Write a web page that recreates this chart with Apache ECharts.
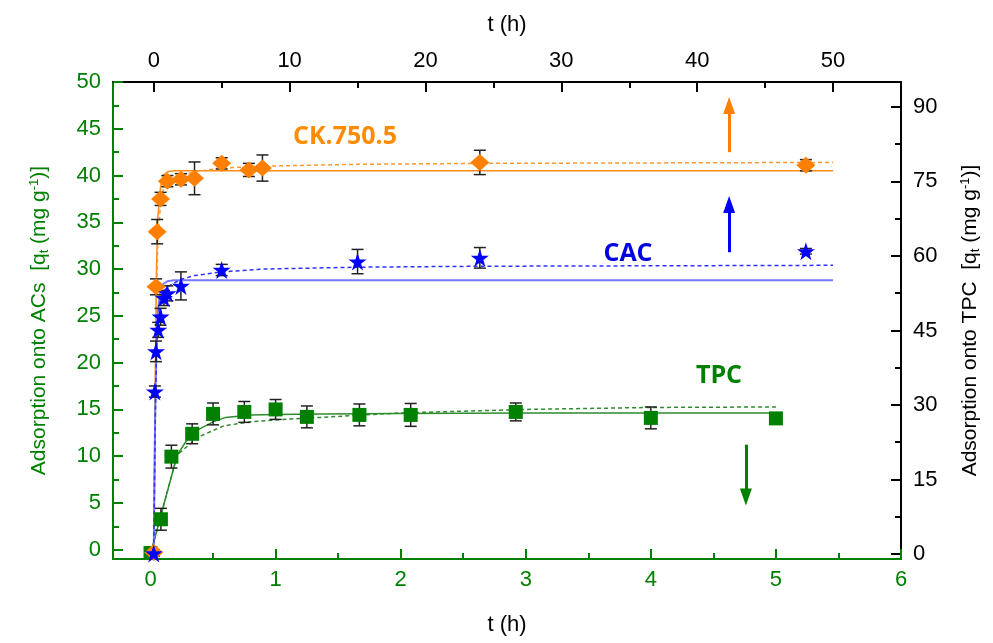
<!DOCTYPE html>
<html>
<head>
<meta charset="utf-8">
<script src="https://cdn.jsdelivr.net/npm/echarts@6/dist/echarts.min.js"></script>
<style>html,body{margin:0;padding:0;background:#fff}#c{width:993px;height:643px}</style>
</head>
<body>
<div id="c"></div>
<script>
// ---------- tick labels ----------
const bottomMajor = [0, 1, 2, 3, 4, 5, 6];
const bottomMinor = [0.5, 1.5, 2.5, 3.5, 4.5, 5.5];
const topMajor = [0, 10, 20, 30, 40, 50];
const topMinor = [5, 15, 25, 35, 45];
const leftMajor = [0, 5, 10, 15, 20, 25, 30, 35, 40, 45, 50];
const leftMinor = [2.5, 7.5, 12.5, 17.5, 22.5, 27.5, 32.5, 37.5, 42.5, 47.5];
const rightMajor = [0, 15, 30, 45, 60, 75, 90];
const rightMinor = [7.5, 22.5, 37.5, 52.5, 67.5, 82.5];

// ---------- TPC (bottom t axis, right q axis) ----------
const tpcT   = [0, 0.083, 0.167, 0.333, 0.5, 0.75, 1, 1.25, 1.67, 2.08, 2.92, 4, 5];
const tpcQ   = [0.2, 7.0, 19.6, 24.2, 28.2, 28.6, 29.1, 27.6, 28.0, 28.0, 28.6, 27.4, 27.3];
const tpcErr = [0, 2.2, 2.3, 2.0, 2.2, 2.1, 2.0, 2.2, 2.2, 2.3, 1.8, 2.2, 0.3];
const tpcFitST = [0, 0.213, 0.3, 0.386, 0.5, 0.6, 0.8, 1.0, 1.36, 2, 3, 4, 5];
const tpcFitSQ = [0, 19.9, 23.3, 25.1, 26.6, 27.5, 28.0, 28.1, 28.2, 28.3, 28.4, 28.4, 28.4];
const tpcFitDT = [0, 0.213, 0.266, 0.386, 0.585, 0.8, 1.065, 1.36, 2, 3, 4, 5];
const tpcFitDQ = [0, 19.9, 21.1, 23.6, 25.8, 26.6, 27.1, 27.5, 28.4, 29.1, 29.5, 29.6];

// ---------- CK.750.5 (top t axis, left q axis) ----------
const ckT   = [0, 0.17, 0.25, 0.5, 1, 2, 3, 5, 7, 8, 24, 48];
const ckQ   = [-0.3, 28.1, 34.0, 37.5, 39.4, 39.6, 39.7, 41.3, 40.6, 40.8, 41.4, 41.1];
const ckErr = [0.3, 0.85, 1.3, 0.7, 0.6, 0.6, 1.75, 0.6, 0.7, 1.4, 1.3, 0.6];
const ckFitST = [0, 0.1, 0.2, 0.3, 0.5, 0.7, 1, 1.5, 50];
const ckFitSQ = [0, 17, 30, 35.5, 38.8, 40.0, 40.4, 40.5, 40.5];
const ckFitDT = [0, 0.1, 0.2, 0.3, 0.5, 0.7, 1, 2, 3, 5, 8, 15, 24, 50];
const ckFitDQ = [0, 15, 27, 33, 37, 38.5, 39.3, 40.0, 40.4, 40.8, 41.0, 41.2, 41.3, 41.4];

// ---------- CAC (top t axis, left q axis) ----------
const cacT   = [0, 0.083, 0.167, 0.33, 0.5, 0.75, 1, 2, 5, 15, 24, 48];
const cacQ   = [-0.4, 16.9, 21.2, 23.5, 24.9, 26.9, 27.4, 28.2, 29.9, 30.8, 31.2, 31.9];
const cacErr = [0.3, 0.6, 1.1, 0.8, 0.9, 0.8, 0.8, 1.5, 0.6, 1.3, 1.1, 0.3];
const cacFitST = [0, 0.1, 0.2, 0.3, 0.5, 0.7, 1, 1.5, 50];
const cacFitSQ = [0, 14, 22, 25.5, 27.8, 28.4, 28.7, 28.8, 28.8];
const cacFitDT = [0, 0.1, 0.2, 0.3, 0.5, 0.7, 1, 2, 3, 5, 8, 15, 24, 50];
const cacFitDQ = [0, 13, 21, 24.5, 26.8, 27.6, 28.1, 28.9, 29.3, 29.7, 30.0, 30.2, 30.3, 30.4];

// ---------- arrows (axis coordinates: tail, head centre) ----------
const ckArrow  = [[42.35, 42.5], [42.35, 47.5]];
const cacArrow = [[42.35, 31.8], [42.35, 36.9]];
const tpcArrow = [[4.76, 22.0], [4.76, 11.5]];

const GREEN = '#008000', ORANGE = '#ff8000', BLUE = '#0000ff', BLACK = '#000';
const FONT = '"Liberation Sans", Arial, sans-serif';
const STAR = 'path://M50,0 L61.8,35.1 L98.9,35.1 L68.9,57 L80.3,92.2 L50,70.4 L19.7,92.2 L31.1,57 L1.1,35.1 L38.2,35.1 Z';

const zip = (a, b) => a.map((v, i) => [v, b[i]]);

function mainAxis(dir, pos, min, max, major, color, name, nameGap, nameRich) {
  const ax = {
    type: 'value', position: pos, min: min, max: max,
    axisLine: { show: true, onZero: false, lineStyle: { color: color, width: 2 } },
    axisTick: { show: true, inside: true, length: 10, customValues: major, lineStyle: { color: color, width: 2 } },
    axisLabel: { show: true, customValues: major, color: color, fontSize: 22, fontFamily: FONT, margin: dir === 'x' ? 10 : 12 },
    splitLine: { show: false },
    name: name, nameLocation: 'middle', nameGap: nameGap,
    nameTextStyle: { color: BLACK, fontSize: 22, fontFamily: FONT }
  };
  if (nameRich) {
    ax.nameRotate = 90;
    ax.nameTextStyle = {
      color: color, fontSize: 21, fontFamily: FONT,
      rich: {
        a: { color: color, fontSize: 21, fontFamily: FONT },
        sub: { color: color, fontSize: 13, fontFamily: FONT, verticalAlign: 'bottom', padding: [10, 0, 0, 0] },
        sup: { color: color, fontSize: 13, fontFamily: FONT, verticalAlign: 'top', padding: [0, 0, 8, 0] }
      }
    };
  }
  return ax;
}
function minorAxis(pos, min, max, vals, color) {
  return {
    type: 'value', position: pos, min: min, max: max,
    axisLine: { show: false, onZero: false },
    axisTick: { show: true, inside: true, length: 6, customValues: vals, lineStyle: { color: color, width: 2 } },
    axisLabel: { show: false },
    splitLine: { show: false }
  };
}

function errSeries(ts, qs, es, xi, yi) {
  return {
    type: 'custom', xAxisIndex: xi, yAxisIndex: yi, silent: true, z: 2,
    data: ts.map((t, i) => [t, qs[i] - es[i], qs[i] + es[i]]),
    encode: { x: 0, y: [1, 2] },
    renderItem: function (params, api) {
      if (api.value(2) - api.value(1) < 0.05) return null;
      const lo = api.coord([api.value(0), api.value(1)]);
      const hi = api.coord([api.value(0), api.value(2)]);
      const w = 6;
      const st = { stroke: '#222', lineWidth: 1.5 };
      return {
        type: 'group', children: [
          { type: 'line', shape: { x1: lo[0], y1: lo[1], x2: hi[0], y2: hi[1] }, style: st },
          { type: 'line', shape: { x1: lo[0] - w, y1: lo[1], x2: lo[0] + w, y2: lo[1] }, style: st },
          { type: 'line', shape: { x1: hi[0] - w, y1: hi[1], x2: hi[0] + w, y2: hi[1] }, style: st }
        ]
      };
    }
  };
}
function fitSeries(ts, qs, xi, yi, color, dashed, width) {
  return {
    type: 'line', xAxisIndex: xi, yAxisIndex: yi, data: zip(ts, qs),
    showSymbol: false, symbol: 'none', smooth: false, silent: true, z: 1,
    lineStyle: { color: color, width: width || 1.5, type: dashed ? [4, 3] : 'solid' }
  };
}
function arrowLine(pts, color) {
  return {
    silent: true, symbol: ['none', 'triangle'], symbolSize: [12, 17],
    label: { show: false },
    lineStyle: { color: color, width: 3, type: 'solid' },
    itemStyle: { color: color },
    data: [[{ coord: pts[0] }, { coord: pts[1] }]]
  };
}

const chart = echarts.init(document.getElementById('c'), null, { renderer: 'canvas' });
chart.setOption({
  animation: false,
  grid: { left: 113, right: 92, top: 82, bottom: 84, containLabel: false },
  xAxis: [
    mainAxis('x', 'bottom', -0.3, 6, bottomMajor, GREEN, 't (h)', 55),
    minorAxis('bottom', -0.3, 6, bottomMinor, GREEN),
    mainAxis('x', 'top', -3, 55, topMajor, BLACK, 't (h)', 46),
    minorAxis('top', -3, 55, topMinor, BLACK)
  ],
  yAxis: [
    mainAxis('y', 'left', -1, 50, leftMajor, GREEN, '{a|Adsorption onto ACs  [q}{sub|t}{a| (mg g}{sup|-1}{a|)]}', 62, true),
    minorAxis('left', -1, 50, leftMinor, GREEN),
    mainAxis('y', 'right', -1, 95, rightMajor, BLACK, '{a|Adsorption onto TPC  [q}{sub|t}{a| (mg g}{sup|-1}{a|)]}', 58, true),
    minorAxis('right', -1, 95, rightMinor, BLACK)
  ],
  series: [
    // fits
    fitSeries(tpcFitST, tpcFitSQ, 0, 2, '#2e8b2e', false),
    fitSeries(tpcFitDT, tpcFitDQ, 0, 2, '#2e8b2e', true),
    fitSeries(ckFitST, ckFitSQ, 2, 0, '#ff8a1a', false),
    Object.assign(fitSeries(ckFitDT, ckFitDQ, 2, 0, '#ff9a33', true), { markLine: arrowLine(ckArrow, ORANGE) }),
    fitSeries(cacFitST, cacFitSQ, 2, 0, '#7878ff', false, 2),
    Object.assign(fitSeries(cacFitDT, cacFitDQ, 2, 0, '#3030ff', true), { markLine: arrowLine(cacArrow, BLUE) }),
    Object.assign(fitSeries([tpcArrow[0][0]], [tpcArrow[0][1]], 0, 2, 'rgba(0,0,0,0)', false), { markLine: arrowLine(tpcArrow, GREEN) }),
    // error bars
    errSeries(tpcT, tpcQ, tpcErr, 0, 2),
    errSeries(ckT, ckQ, ckErr, 2, 0),
    errSeries(cacT, cacQ, cacErr, 2, 0),
    // points
    { type: 'scatter', xAxisIndex: 0, yAxisIndex: 2, data: zip(tpcT, tpcQ), symbol: 'rect', symbolSize: 14,
      itemStyle: { color: GREEN, opacity: 1 }, z: 3, silent: true },
    { type: 'scatter', xAxisIndex: 2, yAxisIndex: 0, data: zip(ckT, ckQ), symbol: 'diamond', symbolSize: [19, 17],
      itemStyle: { color: ORANGE, opacity: 1 }, z: 3, silent: true },
    { type: 'scatter', xAxisIndex: 2, yAxisIndex: 0, data: zip(cacT, cacQ), symbol: STAR, symbolSize: 18,
      itemStyle: { color: BLUE, opacity: 1 }, z: 4, silent: true }
  ],
  graphic: [
    { type: 'text', x: 345, y: 137, z: 10, style: { text: 'CK.750.5', fill: '#ff8c00', font: 'bold 25px "Open Sans"', textAlign: 'center', textVerticalAlign: 'middle' } },
    { type: 'text', x: 628, y: 254, z: 10, style: { text: 'CAC', fill: '#0000e0', font: 'bold 25px "Open Sans"', textAlign: 'center', textVerticalAlign: 'middle' } },
    { type: 'text', x: 719, y: 376, z: 10, style: { text: 'TPC', fill: '#008000', font: 'bold 25px "Open Sans"', textAlign: 'center', textVerticalAlign: 'middle' } }
  ]
});
</script>
</body>
</html>
